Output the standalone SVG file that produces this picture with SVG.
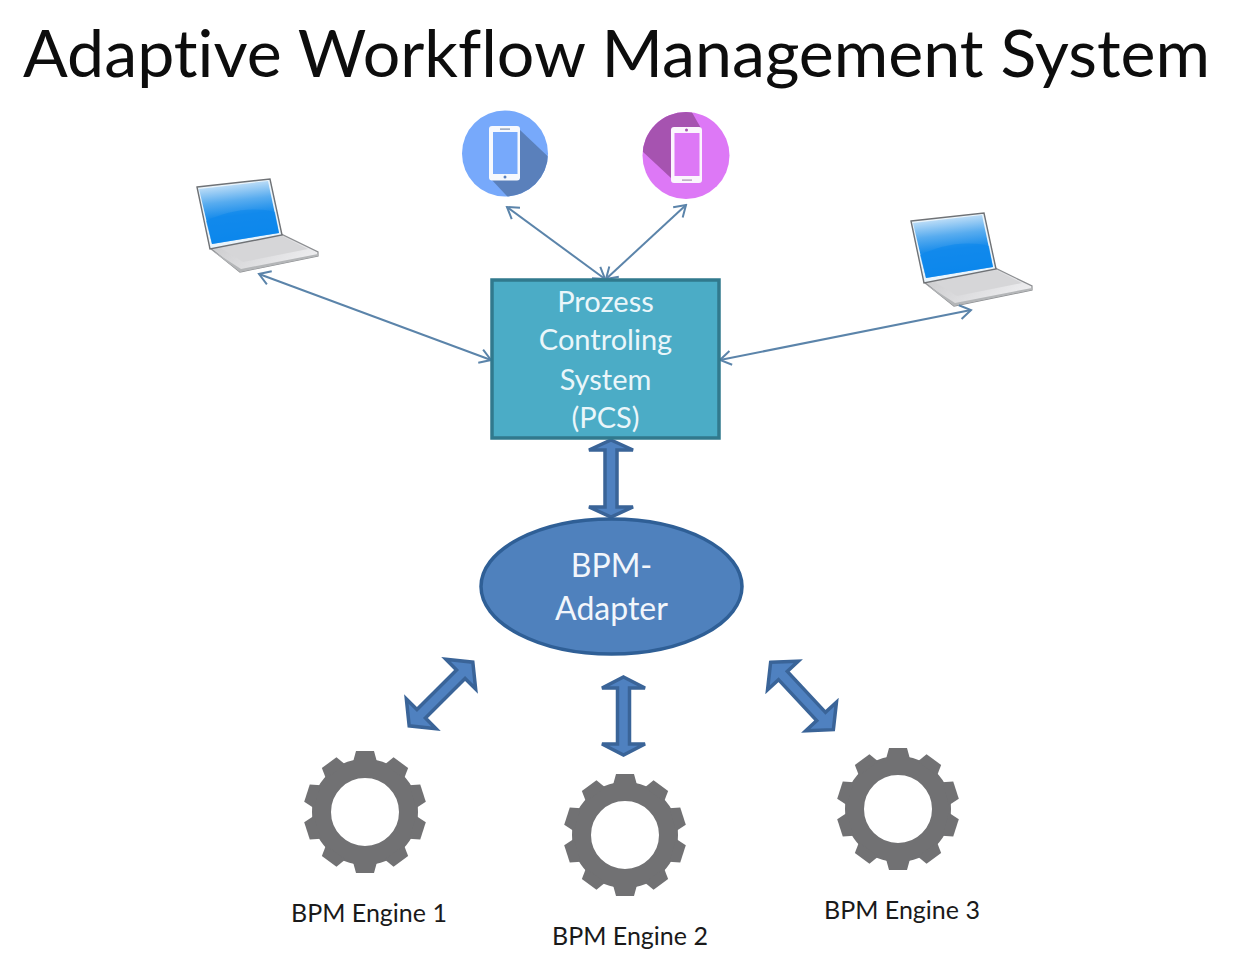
<svg xmlns="http://www.w3.org/2000/svg" xmlns:xlink="http://www.w3.org/1999/xlink" width="1243" height="973" viewBox="0 0 1243 973">
  <style>
    text { font-family: "Lato", "Open Sans", "Liberation Sans", sans-serif; text-anchor: middle; font-variant-ligatures: none; }
    .title { font-size: 65px; fill: #0d0d0d; }
    .box-label { font-size: 29px; fill: #eaf6fa; }
    .oval-label { font-size: 32px; fill: #f2f6fb; }
    .engine-label { font-size: 25px; fill: #1a1a1a; }
    .thin { fill: none; stroke: #5b84aa; stroke-width: 2; marker-start: url(#openHead); marker-end: url(#openHead); }
    .thick { fill: #4f81c0; stroke: #3a6498; stroke-width: 3.5; stroke-linejoin: miter; }
    .gear { fill: #717173; }
    .ring { fill: none; stroke: #717173; stroke-width: 19; }
  </style>
  <defs>
    <marker id="openHead" viewBox="-12 -8 14 16" refX="0" refY="0" markerWidth="14" markerHeight="16" markerUnits="userSpaceOnUse" orient="auto-start-reverse">
      <path d="M-11,-7 L0,0 L-11,7" fill="none" stroke="#5b84aa" stroke-width="2"/>
    </marker>
    <linearGradient id="screen" x1="0.35" y1="0" x2="0.5" y2="1">
      <stop offset="0" stop-color="#d5e9f9"/>
      <stop offset="0.32" stop-color="#58acef"/>
      <stop offset="0.55" stop-color="#1a8deb"/>
      <stop offset="1" stop-color="#0b86ec"/>
    </linearGradient>
    <linearGradient id="deck" x1="0" y1="0" x2="1" y2="0.4">
      <stop offset="0" stop-color="#c9c9cb"/>
      <stop offset="1" stop-color="#ececee"/>
    </linearGradient>
    <g id="laptop">
      <polygon points="210,248 281,234 318,252 318,256 240,272" fill="url(#deck)" stroke="#8d8f92" stroke-width="1.2"/>
      <polygon points="219,247 282,236 308,249 243,262" fill="#d6d6d8"/>
      <polygon points="210,249 240,272 318,256 318,254 241,269" fill="#b4b6b8"/>
      <polygon points="197,187 270,179 282,235 210,249" fill="#eaf4fb" stroke="#6f7276" stroke-width="1.4"/>
      <polygon points="199,189 268,181 279,233 212,244" fill="url(#screen)"/>
      <path d="M206,221 C225,212 250,206 275,212 L279,233 L212,244 Z" fill="#0b86ec" opacity="0.55"/>
    </g>
    <g id="gear">
      <circle class="ring" cx="0" cy="0" r="43.500"/>
      <polygon id="tooth" class="gear" points="-12,-50 -9,-61 9,-61 12,-50"/>
      <use xlink:href="#tooth" href="#tooth" transform="rotate(36)"/>
      <use xlink:href="#tooth" href="#tooth" transform="rotate(72)"/>
      <use xlink:href="#tooth" href="#tooth" transform="rotate(108)"/>
      <use xlink:href="#tooth" href="#tooth" transform="rotate(144)"/>
      <use xlink:href="#tooth" href="#tooth" transform="rotate(180)"/>
      <use xlink:href="#tooth" href="#tooth" transform="rotate(216)"/>
      <use xlink:href="#tooth" href="#tooth" transform="rotate(252)"/>
      <use xlink:href="#tooth" href="#tooth" transform="rotate(288)"/>
      <use xlink:href="#tooth" href="#tooth" transform="rotate(324)"/>
    </g>
    <clipPath id="blueDisc"><circle cx="505" cy="153.500" r="43"/></clipPath>
    <clipPath id="purpleDisc"><circle cx="686" cy="155.500" r="43.500"/></clipPath>
  </defs>

  <rect width="1243" height="973" fill="#ffffff"/>

  <text id="title" class="title" x="616.500" y="77" textLength="1187" lengthAdjust="spacingAndGlyphs">Adaptive Workflow Management System</text>

  <!-- Client devices -->
  <g id="laptop-left"><use xlink:href="#laptop" href="#laptop"/></g>
  <g id="laptop-right"><use xlink:href="#laptop" href="#laptop" transform="translate(714,34)"/></g>

  <g id="phone-blue">
    <circle cx="505" cy="153.500" r="43" fill="#77a9fb"/>
    <polygon points="520,130 560,168 520,210 490,178" fill="#5a80bb" clip-path="url(#blueDisc)"/>
    <rect x="489" y="126" width="31" height="54.500" rx="3" fill="#f7f9fd"/>
    <rect x="493" y="132" width="24.500" height="42" fill="#77a9fb"/>
    <rect x="500" y="128.500" width="10" height="1.200" fill="#7f8fa8"/>
    <circle cx="505" cy="177" r="1.500" fill="#5a80bb"/>
  </g>

  <g id="phone-purple">
    <circle cx="686" cy="155.500" r="43.500" fill="#dd78f6"/>
    <polygon points="702,130 685,100 630,140 671,178" fill="#a653b0" clip-path="url(#purpleDisc)"/>
    <rect x="671" y="127" width="31" height="56" rx="3" fill="#fbf5fd"/>
    <rect x="674.500" y="133" width="25" height="43" fill="#dd78f6"/>
    <rect x="682" y="179.500" width="10" height="1.200" fill="#a88fb0"/>
    <circle cx="686.500" cy="130" r="1.500" fill="#a653b0"/>
  </g>

  <!-- Links between devices, controller, adapter and engines -->
  <g id="connectors">
    <line class="thin" x1="259" y1="274" x2="491" y2="360"/>
    <line class="thin" x1="507" y1="207" x2="605" y2="279"/>
    <line class="thin" x1="686" y1="205" x2="606" y2="279"/>
    <line class="thin" x1="971" y1="310" x2="720" y2="360"/>
    <polygon class="thick" points="611,440 633,450 617,450 617,507 633,507 611,517 589,507 605,507 605,450 589,450"/>
    <polygon class="thick" points="623.500,677 645,688 629.500,688 629.500,744 645,744 623.500,755 602,744 617.500,744 617.500,688 602,688"/>
    <polygon class="thick" transform="translate(441,694) rotate(45)" points="0,-45 21,-28 6,-28 6,28 21,28 0,45 -21,28 -6,28 -6,-28 -21,-28"/>
    <polygon class="thick" transform="translate(802,696) rotate(-43)" points="0,-46 21,-28 6,-28 6,28 21,28 0,46 -21,28 -6,28 -6,-28 -21,-28"/>
  </g>

  <g id="pcs">
    <rect x="492" y="280" width="227" height="158" fill="#4bacc6" stroke="#31798d" stroke-width="3.500"/>
    <text class="box-label" x="605.500" y="312">Prozess</text>
    <text class="box-label" x="605.500" y="350">Controling</text>
    <text class="box-label" x="605.500" y="390">System</text>
    <text class="box-label" x="605.500" y="428">(PCS)</text>
  </g>

  <g id="bpm-adapter">
    <ellipse cx="611.500" cy="586.500" rx="130.500" ry="67.500" fill="#4f81bd" stroke="#2f5f96" stroke-width="3.500"/>
    <text class="oval-label" x="611.500" y="577">BPM-</text>
    <text class="oval-label" x="611.500" y="620">Adapter</text>
  </g>

  <g id="engine-1">
    <use xlink:href="#gear" href="#gear" transform="translate(365,812)"/>
    <text class="engine-label" x="369" y="922">BPM Engine 1</text>
  </g>
  <g id="engine-2">
    <use xlink:href="#gear" href="#gear" transform="translate(625,835)"/>
    <text class="engine-label" x="630" y="945">BPM Engine 2</text>
  </g>
  <g id="engine-3">
    <use xlink:href="#gear" href="#gear" transform="translate(898,809)"/>
    <text class="engine-label" x="902" y="919">BPM Engine 3</text>
  </g>
</svg>
